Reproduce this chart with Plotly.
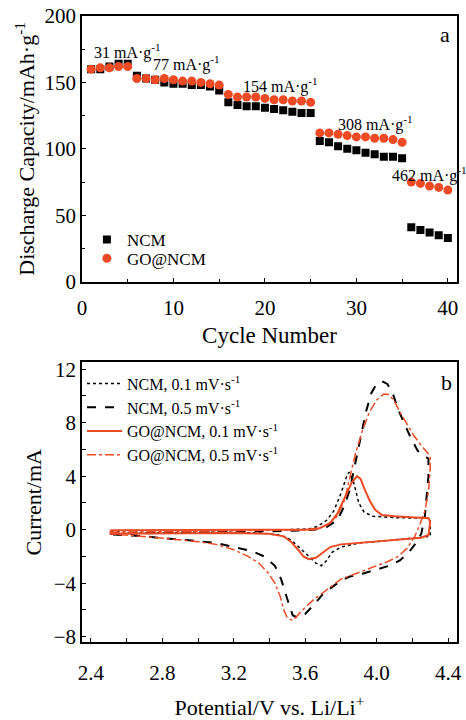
import plotly.graph_objects as go

# ---------------- Panel a: rate capability ----------------
cycles = list(range(1, 41))
ncm_capacity = [160, 160, 162, 164, 164,
                155, 153, 152, 150, 149, 149, 148, 148, 147, 144,
                135, 133, 132, 132, 131, 130, 129, 128, 127, 127,
                106, 105, 102, 100, 99, 97, 96, 94, 94, 93,
                41, 39, 37, 35, 33]
go_capacity = [160, 161, 161, 162, 162,
               153, 153, 152, 153, 152, 151, 151, 150, 149, 148,
               141, 139, 139, 139, 138, 137, 137, 136, 136, 135,
               112, 112, 111, 110, 109, 109, 108, 108, 107, 105,
               75, 74, 72, 71, 69]
rate_labels = ["31 mA·g<sup>-1</sup>", "77 mA·g<sup>-1</sup>", "154 mA·g<sup>-1</sup>",
               "308 mA·g<sup>-1</sup>", "462 mA·g<sup>-1</sup>"]
rate_label_x = [1.1, 7.5, 17.4, 27.8, 33.7]
rate_label_y = [173, 164, 148, 119, 81]

# ---------------- Panel b: CV curves ----------------
ncm01_v = [2.51, 2.8, 3.2, 3.5, 3.62, 3.67, 3.72, 3.76, 3.8, 3.83, 3.845, 3.87, 3.9, 3.93, 3.98, 4.1, 4.2, 4.3,
           4.3, 4.2, 4.1, 4.0, 3.9, 3.8, 3.75, 3.72, 3.69, 3.66, 3.62, 3.58, 3.54, 3.5, 3.45, 3.35, 3.2, 2.9, 2.51, 2.51]
ncm01_i = [-0.1, -0.05, 0, 0, 0.05, 0.25, 0.7, 1.4, 2.7, 3.9, 4.3, 3.6, 2.0, 1.3, 1.0, 0.9, 0.85, 0.85,
           -0.5, -0.65, -0.8, -0.9, -1.0, -1.3, -1.7, -2.3, -2.7, -2.5, -2.0, -1.5, -1.0, -0.6, -0.4, -0.25, -0.2, -0.2, -0.3, -0.1]

ncm05_v = [2.51, 2.8, 3.2, 3.5, 3.65, 3.72, 3.78, 3.82, 3.85, 3.88, 3.91, 3.94, 3.97, 4.0, 4.03, 4.06, 4.09, 4.12,
           4.15, 4.19, 4.23, 4.27, 4.29,
           4.29, 4.28, 4.27, 4.25, 4.22, 4.18, 4.13, 4.07, 4.0, 3.92, 3.85, 3.8, 3.75, 3.7, 3.65, 3.6, 3.56,
           3.53, 3.5, 3.465, 3.43, 3.37, 3.3, 3.2, 3.1, 2.95, 2.8, 2.65, 2.51, 2.51]
ncm05_i = [-0.3, -0.25, -0.2, -0.1, 0, 0.2, 0.7, 1.8, 3.0, 5.0, 6.9, 8.8, 10.2, 10.9, 11.1, 10.9, 10.2, 9.0,
           8.1, 6.9, 5.9, 5.5, 5.3,
           4.0, 2.5, 1.0, -0.3, -1.0, -1.7, -2.3, -2.7, -3.0, -3.3, -3.5, -3.8, -4.3, -4.8, -5.6, -6.3, -6.6,
           -6.4, -5.2, -3.7, -2.7, -2.0, -1.6, -1.3, -1.0, -0.8, -0.6, -0.45, -0.35, -0.3]

go01_v = [2.51, 3.0, 3.6, 3.68, 3.74, 3.78, 3.82, 3.86, 3.89, 3.91, 3.93, 3.96, 3.99, 4.03, 4.1, 4.2, 4.29, 4.3,
          4.29, 4.25, 4.15, 4.0, 3.9, 3.8, 3.74, 3.7, 3.66, 3.62, 3.59, 3.56, 3.52, 3.48, 3.4, 3.2, 2.8, 2.51, 2.51]
go01_i = [-0.05, -0.05, 0, 0.1, 0.5, 1.2, 2.4, 3.5, 4.0, 3.8, 3.1, 2.2, 1.5, 1.1, 1.0, 0.9, 0.85, 0.6,
          -0.4, -0.6, -0.7, -0.85, -0.95, -1.1, -1.3, -1.7, -2.1, -2.2, -2.0, -1.5, -0.9, -0.5, -0.3, -0.25, -0.25, -0.3, -0.05]

go05_v = [2.51, 3.0, 3.5, 3.65, 3.72, 3.78, 3.82, 3.85, 3.88, 3.92, 3.96, 4.0, 4.04, 4.07, 4.1, 4.13, 4.17, 4.21,
          4.25, 4.29, 4.3,
          4.3, 4.29, 4.27, 4.24, 4.21, 4.17, 4.12, 4.06, 4.0, 3.92, 3.85, 3.8, 3.75, 3.7, 3.65, 3.6, 3.56, 3.53,
          3.5, 3.48, 3.46, 3.43, 3.39, 3.34, 3.28, 3.2, 3.1, 3.0, 2.85, 2.7, 2.51, 2.51]
go05_i = [-0.2, -0.1, -0.05, 0, 0.3, 1.0, 2.2, 3.8, 5.6, 7.4, 8.8, 9.7, 10.15, 10.1, 9.6, 8.8, 7.9, 7.0,
          6.3, 5.7, 5.5,
          4.5, 2.8, 1.4, 0.3, -0.6, -1.4, -2.0, -2.4, -2.7, -3.1, -3.4, -3.7, -4.2, -4.7, -5.2, -5.8, -6.4, -6.8,
          -6.6, -6.0, -5.0, -4.0, -3.2, -2.5, -2.0, -1.5, -1.1, -0.9, -0.7, -0.5, -0.3, -0.2]

cv_names = ["NCM, 0.1 mV·s<sup>-1</sup>", "NCM, 0.5 mV·s<sup>-1</sup>",
            "GO@NCM, 0.1 mV·s<sup>-1</sup>", "GO@NCM, 0.5 mV·s<sup>-1</sup>"]

RED = "#EE4B25"
FONT = "Times New Roman, Liberation Serif, serif"

fig = go.Figure()

fig.add_trace(go.Scatter(x=cycles, y=ncm_capacity, mode="markers", name="NCM",
                         marker=dict(symbol="square", size=8, color="black"),
                         xaxis="x", yaxis="y", legend="legend", showlegend=True))
fig.add_trace(go.Scatter(x=cycles, y=go_capacity, mode="markers", name="GO@NCM",
                         marker=dict(symbol="circle", size=9, color=RED),
                         xaxis="x", yaxis="y", legend="legend2", showlegend=True))

fig.add_trace(go.Scatter(x=ncm01_v, y=ncm01_i, mode="lines", name=cv_names[0],
                         line=dict(color="black", width=1.5, dash="dot"),
                         xaxis="x2", yaxis="y2", legend="legend3"))
fig.add_trace(go.Scatter(x=ncm05_v, y=ncm05_i, mode="lines", name=cv_names[1],
                         line=dict(color="black", width=2, dash="dash"),
                         xaxis="x2", yaxis="y2", legend="legend3"))
fig.add_trace(go.Scatter(x=go01_v, y=go01_i, mode="lines", name=cv_names[2],
                         line=dict(color=RED, width=2),
                         xaxis="x2", yaxis="y2", legend="legend3"))
fig.add_trace(go.Scatter(x=go05_v, y=go05_i, mode="lines", name=cv_names[3],
                         line=dict(color=RED, width=1.5, dash="dashdot"),
                         xaxis="x2", yaxis="y2", legend="legend3"))

axis_common = dict(showline=True, linecolor="black", linewidth=1.5, mirror=True,
                   ticks="inside", ticklen=4, tickcolor="black", showgrid=False, zeroline=False,
                   tickfont=dict(family=FONT, size=21, color="black"))

annotations = []
for t, xv, yv in zip(rate_labels, rate_label_x, rate_label_y):
    annotations.append(dict(x=xv, y=yv, xref="x", yref="y", text=t, showarrow=False,
                            xanchor="left", yanchor="middle",
                            font=dict(family=FONT, size=16, color="black")))
annotations.append(dict(x=39.7, y=186, xref="x", yref="y", text="a", showarrow=False,
                        font=dict(family=FONT, size=22, color="black")))
annotations.append(dict(x=4.39, y=11.0, xref="x2", yref="y2", text="b", showarrow=False,
                        font=dict(family=FONT, size=22, color="black")))

legend_common = dict(xanchor="left", yanchor="top", bgcolor="rgba(0,0,0,0)",
                     font=dict(family=FONT, size=17, color="black"), itemwidth=30)

fig.update_layout(
    width=466, height=720,
    margin=dict(l=82, r=4, t=16, b=68),
    paper_bgcolor="white", plot_bgcolor="white",
    font=dict(family=FONT, color="black"),
    showlegend=True,
    xaxis=dict(axis_common, domain=[0, 1], anchor="y", range=[0, 41], dtick=10, ticklabelstandoff=6,
               minor=dict(ticks="inside", ticklen=3, dtick=5, tickcolor="black"),
               title=dict(text="Cycle Number", font=dict(family=FONT, size=23), standoff=8)),
    yaxis=dict(axis_common, domain=[0.5755, 1], anchor="x", range=[0, 200], dtick=50,
               minor=dict(ticks="inside", ticklen=3, dtick=25, tickcolor="black"),
               title=dict(text="Discharge Capacity/mAh·g<sup>-1</sup>", font=dict(family=FONT, size=22), standoff=4)),
    xaxis2=dict(axis_common, domain=[0, 1], anchor="y2", range=[2.35, 4.45], tick0=2.4, dtick=0.4,
                tickformat=".1f", ticklabelstandoff=11,
                minor=dict(ticks="inside", ticklen=4, dtick=0.2, tick0=2.4, tickcolor="black"),
                title=dict(text="Potential/V vs. Li/Li<sup>+</sup>", font=dict(family=FONT, size=22), standoff=16)),
    yaxis2=dict(axis_common, domain=[0, 0.4465], anchor="x2", range=[-8.4, 12.5], tick0=0, dtick=4,
                minor=dict(ticks="inside", ticklen=4, dtick=2, tickcolor="black"),
                title=dict(text="Current/mA", font=dict(family=FONT, size=22), standoff=6)),
    legend=dict(legend_common, x=0.013, y=0.671),
    legend2=dict(legend_common, x=0.013, y=0.641),
    legend3=dict(x=0.0, y=0.44, xanchor="left", yanchor="top", bgcolor="rgba(0,0,0,0)",
                 font=dict(family=FONT, size=16, color="black"), itemwidth=35),
    annotations=annotations,
)

fig.write_html("out.html")
